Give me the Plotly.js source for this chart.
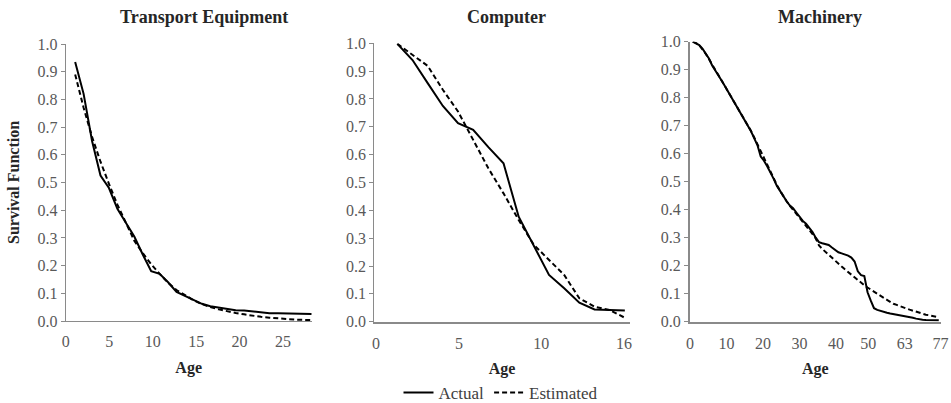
<!DOCTYPE html>
<html>
<head>
<meta charset="utf-8">
<script src="https://cdn.plot.ly/plotly-3.0.1.min.js"></script>
<style>html,body{margin:0;padding:0;background:#fff;}#chart{width:951px;height:403px;}</style>
</head>
<body>
<div id="chart"></div>
<script>
// ---- Data ----
const panelTitles = ['Transport Equipment', 'Computer', 'Machinery'];
const seriesNames = ['Actual', 'Estimated'];
const xTitle = 'Age';
const yTitle = 'Survival Function';

const transportAge = [1,2,3,4,5,6,7,8,9,10,11,12,13,14,15,16,17,18,19,20,21,22,23,24,25,26,27,28,29];
const transportActual = [0.935,0.82,0.65,0.525,0.48,0.405,0.355,0.305,0.24,0.18,0.17,0.14,0.105,0.09,0.077,0.062,0.053,0.048,0.043,0.039,0.038,0.035,0.031,0.028,0.028,0.027,0.025,0.025,0.025];
const transportEstimated = [0.89,0.77,0.665,0.575,0.495,0.42,0.355,0.29,0.245,0.205,0.17,0.138,0.112,0.092,0.075,0.061,0.05,0.042,0.035,0.029,0.024,0.019,0.015,0.012,0.009,0.007,0.005,0.004,0.003];
const transportTickText = ['0','5','10','15','20','25'];

const computerAge = [1,2,3,4,5,6,7,8,9,10,11,12,13,14,15,16];
const computerActual = [0.998,0.94,0.857,0.775,0.713,0.689,0.627,0.569,0.377,0.27,0.168,0.12,0.068,0.044,0.042,0.04];
const computerEstimated = [0.998,0.958,0.919,0.833,0.755,0.653,0.551,0.461,0.365,0.276,0.222,0.168,0.084,0.054,0.042,0.014];
const computerTickText = ['0','5','10','16'];

const machineryAge = [1,2,3,4,5,6,7,8,9,10,11,12,13,14,15,16,17,18,19,20,
  21,22,23,24,25,26,27,28,29,30,31,32,33,34,35,36,37,38,39,40,
  41,42,43,44,45,46,47,48,49,50,51,52,53,54,55,56,57,58,59,60,
  61,62,63,64,65,66,67,68,69,70,71,72,73,74,75,76,77];
const machineryActual = [1.0,0.995,0.988,0.975,0.958,0.94,0.915,0.898,0.88,0.86,
  0.84,0.82,0.805,0.785,0.765,0.745,0.725,0.705,0.68,0.655,
  0.63,0.59,0.575,0.555,0.535,0.51,0.485,0.465,0.445,0.43,
  0.415,0.405,0.39,0.375,0.36,0.35,0.335,0.32,0.30,0.284,
  0.28,0.277,0.274,0.265,0.256,0.248,0.244,0.241,0.236,0.229,
  0.215,0.18,0.166,0.163,0.105,0.075,0.048,0.042,0.038,0.035,
  0.032,0.029,0.027,0.025,0.024,0.022,0.019,0.016,0.014,0.011,
  0.008,0.007,0.006,0.006,0.005,0.005,0.005];
const machineryEstimated = [1.0,0.995,0.987,0.974,0.957,0.938,0.917,0.898,0.879,0.86,
  0.84,0.82,0.802,0.783,0.764,0.744,0.724,0.703,0.681,0.658,
  0.634,0.605,0.58,0.556,0.534,0.51,0.488,0.467,0.447,0.43,
  0.414,0.4,0.386,0.371,0.357,0.343,0.328,0.313,0.297,0.272,
  0.26,0.249,0.239,0.228,0.218,0.207,0.197,0.187,0.177,0.167,
  0.158,0.148,0.139,0.13,0.122,0.114,0.106,0.099,0.092,0.085,
  0.078,0.07,0.064,0.06,0.055,0.051,0.047,0.043,0.039,0.035,
  0.031,0.028,0.025,0.023,0.021,0.018,0.016];
const machineryTickText = ['0','10','20','30','40','50','63','77'];

// ---- Chart ----
const FONT = '"Liberation Serif", "Times New Roman", serif';
const AX = '#8a8a8a';
const TICKC = '#595959';
const DASH = '5px,3px';

function mk(x, y, xa, ya, name, dash, show) {
  return {
    x: x, y: y, xaxis: xa, yaxis: ya, name: name, type: 'scatter', mode: 'lines',
    line: {color: '#000', width: 2, dash: dash},
    showlegend: show, hoverinfo: 'x+y'
  };
}

const data = [
  mk(transportAge, transportActual, 'x', 'y', seriesNames[0], 'solid', true),
  mk(transportAge, transportEstimated, 'x', 'y', seriesNames[1], DASH, true),
  mk(computerAge, computerActual, 'x2', 'y2', seriesNames[0], 'solid', false),
  mk(computerAge, computerEstimated, 'x2', 'y2', seriesNames[1], DASH, false),
  mk(machineryAge, machineryActual, 'x3', 'y3', seriesNames[0], 'solid', false),
  mk(machineryAge, machineryEstimated, 'x3', 'y3', seriesNames[1], DASH, false)
];

function xax(domain, range, tickvals, ticktext, lw, anchor) {
  return {
    domain: domain, range: range, anchor: anchor, automargin: false,
    tickmode: 'array', tickvals: tickvals, ticktext: ticktext,
    showgrid: false, zeroline: false, showline: true, linecolor: AX, linewidth: lw,
    ticks: 'outside', ticklen: 6, tickcolor: 'rgba(0,0,0,0)',
    tickfont: {family: FONT, size: 16, color: TICKC},
    title: {text: '<b>' + xTitle + '</b>', font: {family: FONT, size: 16, color: '#262626'}, standoff: 12},
    fixedrange: true
  };
}
function yax(domain, lw, anchor) {
  return {
    domain: domain, range: [0, 1.0], anchor: anchor, automargin: false,
    tickmode: 'array', tickvals: [0,0.1,0.2,0.3,0.4,0.5,0.6,0.7,0.8,0.9,1.0], tickformat: '.1f',
    showgrid: false, zeroline: false, showline: true, linecolor: AX, linewidth: lw,
    ticks: 'outside', ticklen: 4, tickcolor: AX, tickwidth: 1,
    tickfont: {family: FONT, size: 16, color: TICKC},
    fixedrange: true
  };
}

const W = 951, H = 403;
const titleAnn = [
  {text: '<b>' + panelTitles[0] + '</b>', x: 204 / W, y: 1 - 17 / H},
  {text: '<b>' + panelTitles[1] + '</b>', x: 506.7 / W, y: 1 - 17 / H},
  {text: '<b>' + panelTitles[2] + '</b>', x: 819.7 / W, y: 1 - 17 / H}
].map(a => Object.assign(a, {xref: 'paper', yref: 'paper', xanchor: 'center', yanchor: 'middle',
  showarrow: false, font: {family: FONT, size: 18, color: '#262626'}}));
const yTitleAnn = {text: '<b>' + yTitle + '</b>', textangle: -90, x: 14 / W, y: 1 - 183 / H,
  xref: 'paper', yref: 'paper', xanchor: 'center', yanchor: 'middle', showarrow: false,
  font: {family: FONT, size: 16, color: '#262626'}};

const layout = {
  width: W, height: H,
  margin: {l: 0, r: 0, t: 0, b: 0, autoexpand: false},
  paper_bgcolor: '#fff', plot_bgcolor: '#fff',
  showlegend: true,
  legend: {orientation: 'h', x: 501 / W, xanchor: 'center',
    y: 1 - 393 / H, yanchor: 'middle',
    font: {family: FONT, size: 17, color: '#404040'}, bgcolor: 'rgba(0,0,0,0)', itemwidth: 30},
  xaxis: xax([65.7 / W, 311.7 / W], [-0.12, 29.0], [-0.1, 5.04, 10.18, 15.32, 20.46, 25.6], transportTickText, 1, 'y'),
  yaxis: yax([1 - 321 / H, 1 - 44 / H], 1, 'x'),
  xaxis2: xax([374.3 / W, 630 / W], [-0.52, 16.34], [-0.4, 5.07, 10.49, 15.94], computerTickText, 2, 'y2'),
  yaxis2: yax([1 - 321.7 / H, 1 - 43.3 / H], 1, 'x2'),
  xaxis3: xax([690 / W, 940.7 / W], [0.15, 77.6], [0.17, 11.45, 22.7, 33.97, 45.25, 55.2, 66.5, 77.5], machineryTickText, 2, 'y3'),
  yaxis3: yax([1 - 321.7 / H, 1 - 41.7 / H], 2, 'x3'),
  annotations: titleAnn.concat([yTitleAnn])
};

Plotly.newPlot('chart', data, layout, {displayModeBar: false, staticPlot: true});
</script>
</body>
</html>
